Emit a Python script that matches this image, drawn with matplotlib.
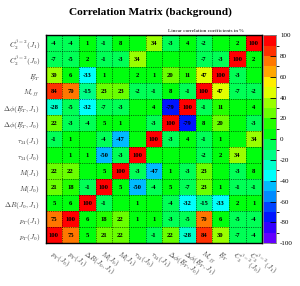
import colorsys

import matplotlib
matplotlib.use("Agg")
import matplotlib.pyplot as plt
import numpy as np
from matplotlib.colors import BoundaryNorm, ListedColormap

plt.rcParams['mathtext.fontset'] = 'cm'
plt.rcParams['axes.unicode_minus'] = False

# variables, bottom-to-top on y and left-to-right on x
labels = [r'$p_T(J_0)$', r'$p_T(J_1)$', r'$\Delta R(J_0, J_1)$',
          r'$M(J_0)$', r'$M(J_1)$', r'$\tau_{21}(J_0)$', r'$\tau_{21}(J_1)$',
          r'$\Delta\phi(E\!\!\!/_T, J_0)$', r'$\Delta\phi(E\!\!\!/_T, J_1)$',
          r'$M_{eff}$', r'$E\!\!\!/_T$',
          r'$C_2^{\beta=2}(J_0)$', r'$C_2^{\beta=2}(J_1)$']

# linear correlation coefficients in %, one row per variable
pt_j0 = [100, 75, 5, 21, 22, 0, -1, 22, -28, 84, 30, -7, -4]
pt_j1 = [75, 100, 6, 18, 22, 1, 1, -3, -5, 70, 6, -5, -4]
dr_j0j1 = [5, 6, 100, -1, 0, 1, 0, -4, -32, -15, -33, 2, 1]
m_j0 = [21, 18, -1, 100, 5, -50, -4, 5, -7, 23, 1, -1, -1]
m_j1 = [22, 22, 0, 5, 100, -3, -47, 1, -3, 23, 0, -3, 8]
tau_j0 = [0, 1, 1, -50, -3, 100, 0, 0, 0, -2, 2, 34, 0]
tau_j1 = [-1, 1, 0, -4, -47, 0, 100, -3, 4, -1, 1, 0, 34]
dphi_j0 = [22, -3, -4, 5, 1, 0, -3, 100, -79, 8, 20, 0, -3]
dphi_j1 = [-28, -5, -32, -7, -3, 0, 4, -79, 100, -1, 11, 0, 4]
meff = [84, 70, -15, 23, 23, -2, -1, 8, -1, 100, 47, -7, -2]
met = [30, 6, -33, 1, 0, 2, 1, 20, 11, 47, 100, -3, 0]
c2_j0 = [-7, -5, 2, -1, -3, 34, 0, 0, 0, -7, -3, 100, 2]
c2_j1 = [-4, -4, 1, -1, 8, 0, 34, -3, 4, -2, 0, 2, 100]

corr = np.array([pt_j0, pt_j1, dr_j0j1, m_j0, m_j1, tau_j0, tau_j1,
                 dphi_j0, dphi_j1, meff, met, c2_j0, c2_j1], dtype=float)
n = len(labels)

# ROOT "pretty" palette (violet -> red in HLS), 20 contour levels
ndiv = 20
cols = []
for k in range(ndiv):
    idx = int((k + 0.99) * 50 / ndiv)
    hue = max(280 - (idx + 1) * 5.6, 0)
    cols.append(colorsys.hls_to_rgb(hue / 360.0, 0.5, 1.0))
cmap = ListedColormap(cols)
bounds = np.linspace(-100, 100, ndiv + 1)
norm = BoundaryNorm(bounds, ndiv, clip=True)

fig = plt.figure(figsize=(3.0, 2.86), dpi=100)
ax = fig.add_axes([0.152, 0.150, 0.722, 0.727])
cax = fig.add_axes([0.877, 0.150, 0.043, 0.727])

mesh = ax.pcolormesh(np.arange(n + 1), np.arange(n + 1), corr,
                     cmap=cmap, norm=norm)

# numbers in the cells, zeros left blank like ROOT's TEXT option
for i in range(n):
    for j in range(n):
        v = corr[i, j]
        if round(v) != 0:
            ax.text(j + 0.5, i + 0.5, '%d' % v, ha='center', va='center',
                    fontsize=4.8, fontweight='bold',
                    family='Liberation Serif', color='black')

ax.set_xlim(0, n)
ax.set_ylim(0, n)
ax.set_xticks(np.arange(n) + 0.5)
ax.set_yticks(np.arange(n) + 0.5)
ax.set_xticklabels(labels, rotation=-33, ha='left', rotation_mode='anchor',
                   fontsize=5.2, color='#333333')
ax.set_yticklabels(labels, fontsize=5.2, color='#333333')
ax.tick_params(length=0, pad=4)
ax.set_xticks(np.arange(n + 1), minor=True)
ax.set_yticks(np.arange(n + 1), minor=True)
ax.tick_params(which='minor', length=0)
ax.grid(which='minor', color='black', linestyle=(0, (2, 2)), linewidth=0.4)
ax.grid(which='major', visible=False)
for s in ax.spines.values():
    s.set_linewidth(1.0)

cb = fig.colorbar(mesh, cax=cax, ticks=np.arange(-100, 101, 20))
cb.outline.set_edgecolor('#888888')
cb.outline.set_linewidth(0.6)
cax.tick_params(direction='in', length=4, width=0.6, pad=3, labelsize=5)
for t in cax.get_yticklabels():
    t.set_family('Liberation Serif')

fig.text(0.5, 0.957, 'Correlation Matrix (background)', ha='center',
         va='center', fontsize=8.2, fontweight='bold',
         family='Liberation Serif')
fig.text(0.687, 0.892, 'Linear correlation coefficients in %', ha='center',
         va='center', fontsize=3.8, family='Liberation Serif')

fig.savefig('out.png', dpi=100)
